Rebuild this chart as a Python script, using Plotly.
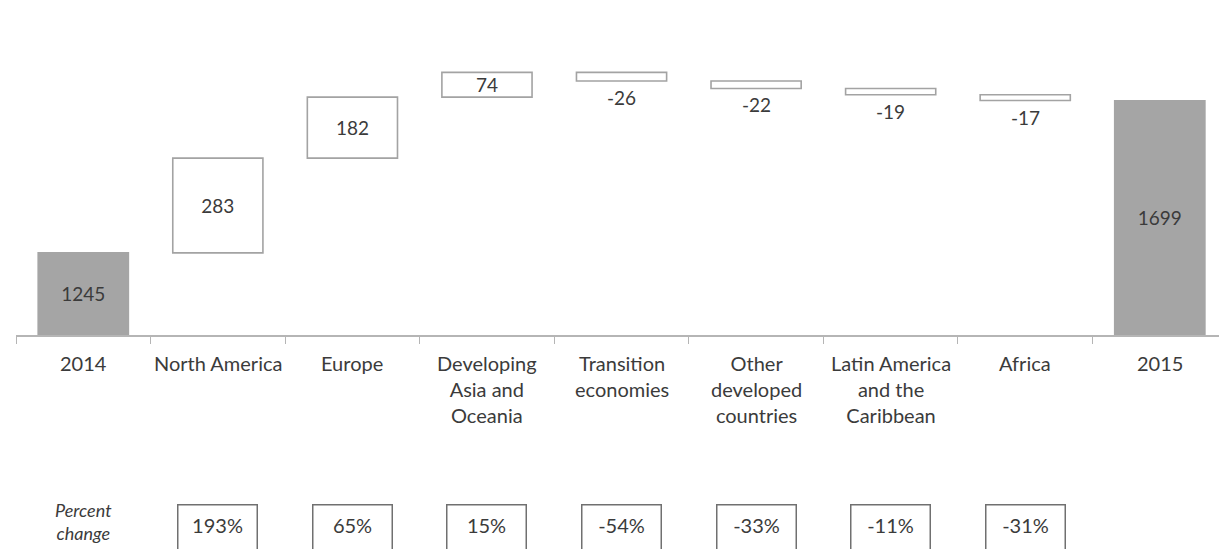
import plotly.graph_objects as go

# Waterfall of 2014 -> 2015 values by region
categories = ["2014", "North America", "Europe", "Developing\nAsia and\nOceania",
              "Transition\neconomies", "Other\ndeveloped\ncountries",
              "Latin America\nand the\nCaribbean", "Africa", "2015"]
values = [1245, 283, 182, 74, -26, -22, -19, -17, 1699]
kinds = ["total", "change", "change", "change", "change", "change", "change", "change", "total"]
percent_change = ["", "193%", "65%", "15%", "-54%", "-33%", "-11%", "-31%", ""]
row_title = "Percent<br>change"

Y_MIN, Y_MAX = 1000, 2000
FONT = "Lato"
TEXT = "#3b3b3b"
TOTAL_FILL = "#a5a5a5"
EDGE = "#a3a3a3"

x = list(range(len(categories)))
bases, heights, fills, lines, labels = [], [], [], [], []
level = 0
for v, k in zip(values, kinds):
    if k == "total":
        bases.append(Y_MIN)
        heights.append(v - Y_MIN)
        fills.append(TOTAL_FILL)
        lines.append(TOTAL_FILL)
        labels.append(str(v))
        level = v
    else:
        bases.append(level)
        heights.append(v)
        fills.append("rgba(255,255,255,1)")
        lines.append(EDGE)
        labels.append(str(v) if v >= 0 else "")
        level += v

fig = go.Figure()
fig.add_trace(go.Bar(
    x=x, y=heights, base=bases, width=0.67,
    marker=dict(color=fills, line=dict(color=lines, width=1.6)),
    text=labels, textposition="inside", textangle=0,
    insidetextanchor="middle", constraintext="none", cliponaxis=False,
    textfont=dict(family=FONT, size=19, color=TEXT),
    hoverinfo="skip", showlegend=False,
))

annotations = []
for i, name in enumerate(categories):
    # decreases are labelled just under their box
    if kinds[i] == "change" and values[i] < 0:
        annotations.append(dict(
            x=i, y=bases[i] + heights[i], xref="x", yref="y",
            yanchor="top", xanchor="center", yshift=-3,
            text=str(values[i]), showarrow=False,
            font=dict(family=FONT, size=19, color=TEXT),
        ))
    annotations.append(dict(
        x=i, y=0, xref="x", yref="paper", yanchor="top", xanchor="center",
        yshift=-14, text=name.replace("\n", "<br>"), showarrow=False,
        font=dict(family=FONT, size=20, color=TEXT), align="center",
    ))
    if percent_change[i]:
        annotations.append(dict(
            x=i, y=0, xref="x", yref="paper", yanchor="top", xanchor="center",
            yshift=-169, text=percent_change[i], showarrow=False,
            width=64, height=60, valign="top", borderpad=7,
            bordercolor="#707070", borderwidth=1.5,
            font=dict(family=FONT, size=20, color=TEXT),
        ))
annotations.append(dict(
    x=0, y=0, xref="x", yref="paper", yanchor="top", xanchor="center",
    yshift=-162, text="<i>" + row_title + "</i>", showarrow=False,
    font=dict(family=FONT, size=18, color=TEXT), align="center",
))

fig.update_layout(
    width=1219, height=549,
    margin=dict(l=16, r=0, t=0, b=214),
    paper_bgcolor="white", plot_bgcolor="white",
    xaxis=dict(range=[-0.5, 8.44], tickvals=[i - 0.5 for i in range(len(categories) + 1)],
               showticklabels=False, ticks="outside", ticklen=7, tickcolor="#b5b5b5",
               showline=True, linecolor="#b5b5b5", linewidth=1.5,
               showgrid=False, zeroline=False, fixedrange=True),
    yaxis=dict(range=[Y_MIN, Y_MAX], visible=False, showgrid=False, fixedrange=True),
    annotations=annotations,
)

fig.write_html("out.html", config={"displayModeBar": False})
